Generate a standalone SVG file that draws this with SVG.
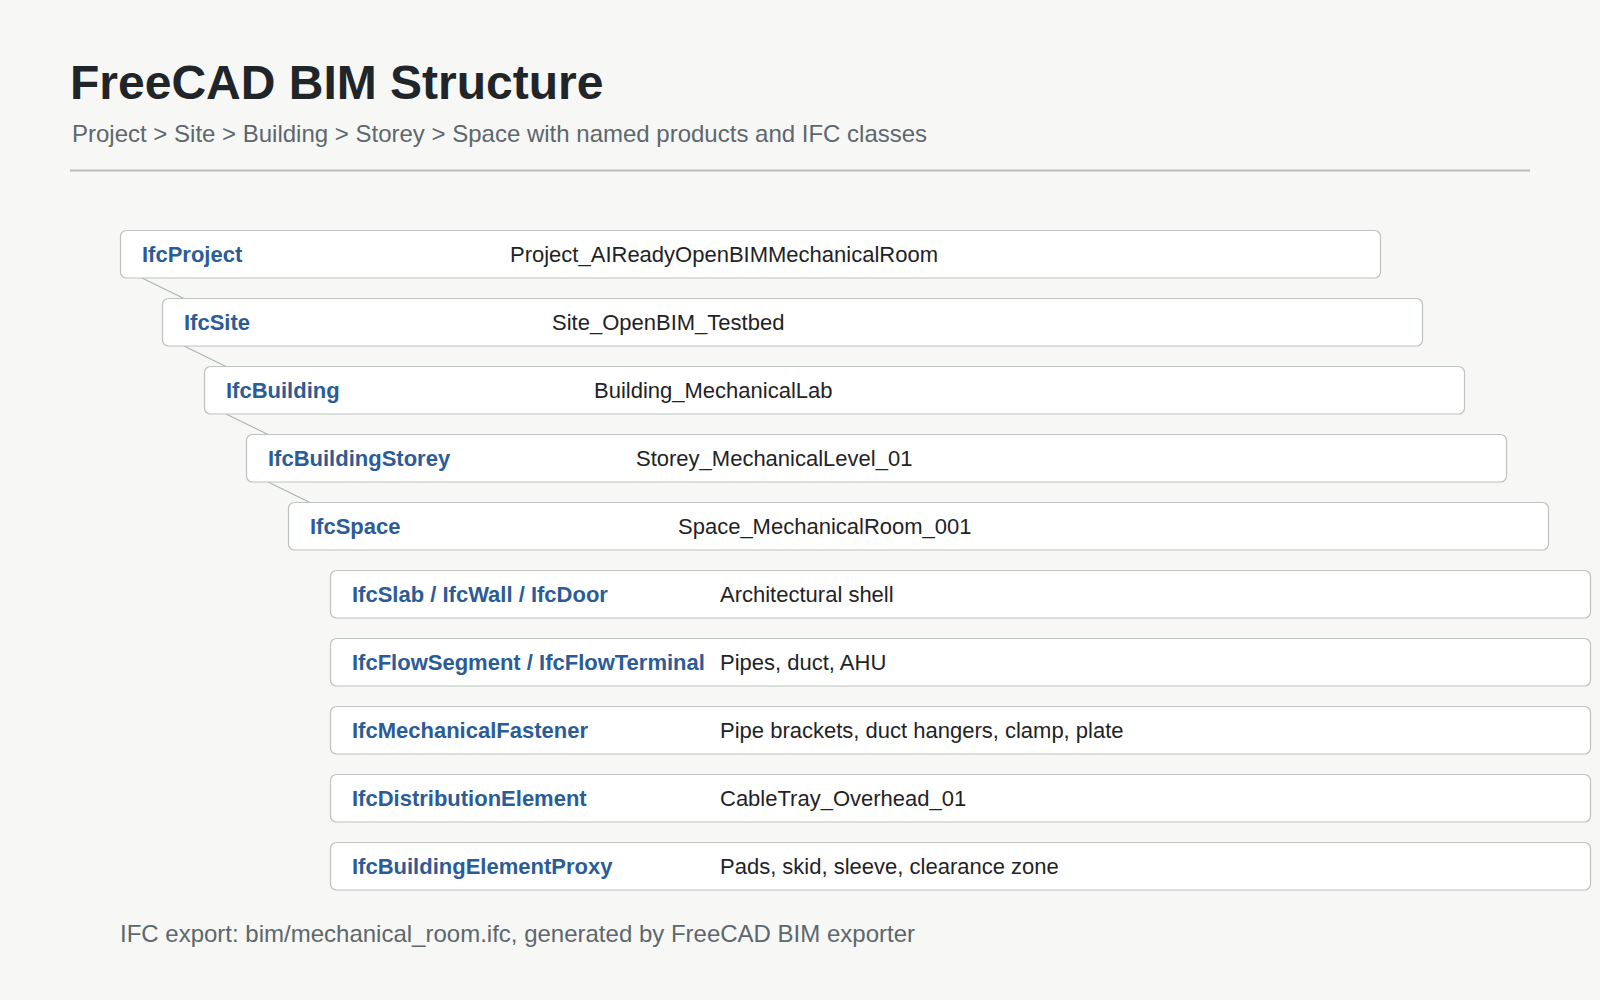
<svg xmlns="http://www.w3.org/2000/svg" width="1600" height="1000" viewBox="0 0 1600 1000">
  <style>
    .title { font-family: "Liberation Sans", Arial, sans-serif; font-weight: bold; font-size: 48px; fill: #1f2528; }
    .sub { font-family: "Liberation Sans", Arial, sans-serif; font-size: 24px; fill: #5d676e; }
    .box { fill: #ffffff; stroke: #bcc3c0; stroke-width: 1.2; }
    .lbl { font-family: "Liberation Sans", Arial, sans-serif; font-weight: bold; font-size: 22px; fill: #2b5c97; }
    .val { font-family: "Liberation Sans", Arial, sans-serif; font-size: 22px; fill: #1f2326; }
    .conn line { stroke: #adb4b1; stroke-width: 1.2; }
  </style>
  <rect x="0" y="0" width="1600" height="1000" fill="#f7f7f5"/>
  <text class="title" x="70" y="99">FreeCAD BIM Structure</text>
  <text class="sub" x="72" y="142">Project &gt; Site &gt; Building &gt; Storey &gt; Space with named products and IFC classes</text>
  <line x1="70" y1="170.5" x2="1530" y2="170.5" stroke="#b8bebb" stroke-width="2"/>

  <g id="connectors" class="conn">
    <line x1="142" y1="278" x2="184" y2="298.5"/>
    <line x1="184" y1="346" x2="226" y2="366.5"/>
    <line x1="226" y1="414" x2="268" y2="434.5"/>
    <line x1="268" y1="482" x2="310" y2="502.5"/>
  </g>

  <g id="node-project">
    <rect class="box" x="120.5" y="230.5" width="1260" height="47.5" rx="6"/>
    <text class="lbl" x="142" y="262">IfcProject</text>
    <text class="val" x="510" y="262">Project_AIReadyOpenBIMMechanicalRoom</text>
  </g>
  <g id="node-site">
    <rect class="box" x="162.5" y="298.5" width="1260" height="47.5" rx="6"/>
    <text class="lbl" x="184" y="330">IfcSite</text>
    <text class="val" x="552" y="330">Site_OpenBIM_Testbed</text>
  </g>
  <g id="node-building">
    <rect class="box" x="204.5" y="366.5" width="1260" height="47.5" rx="6"/>
    <text class="lbl" x="226" y="398">IfcBuilding</text>
    <text class="val" x="594" y="398">Building_MechanicalLab</text>
  </g>
  <g id="node-storey">
    <rect class="box" x="246.5" y="434.5" width="1260" height="47.5" rx="6"/>
    <text class="lbl" x="268" y="466">IfcBuildingStorey</text>
    <text class="val" x="636" y="466">Storey_MechanicalLevel_01</text>
  </g>
  <g id="node-space">
    <rect class="box" x="288.5" y="502.5" width="1260" height="47.5" rx="6"/>
    <text class="lbl" x="310" y="534">IfcSpace</text>
    <text class="val" x="678" y="534">Space_MechanicalRoom_001</text>
  </g>
  <g id="node-shell">
    <rect class="box" x="330.5" y="570.5" width="1260" height="47.5" rx="6"/>
    <text class="lbl" x="352" y="602">IfcSlab / IfcWall / IfcDoor</text>
    <text class="val" x="720" y="602">Architectural shell</text>
  </g>
  <g id="node-flow">
    <rect class="box" x="330.5" y="638.5" width="1260" height="47.5" rx="6"/>
    <text class="lbl" x="352" y="670">IfcFlowSegment / IfcFlowTerminal</text>
    <text class="val" x="720" y="670">Pipes, duct, AHU</text>
  </g>
  <g id="node-fastener">
    <rect class="box" x="330.5" y="706.5" width="1260" height="47.5" rx="6"/>
    <text class="lbl" x="352" y="738">IfcMechanicalFastener</text>
    <text class="val" x="720" y="738">Pipe brackets, duct hangers, clamp, plate</text>
  </g>
  <g id="node-distribution">
    <rect class="box" x="330.5" y="774.5" width="1260" height="47.5" rx="6"/>
    <text class="lbl" x="352" y="806">IfcDistributionElement</text>
    <text class="val" x="720" y="806">CableTray_Overhead_01</text>
  </g>
  <g id="node-proxy">
    <rect class="box" x="330.5" y="842.5" width="1260" height="47.5" rx="6"/>
    <text class="lbl" x="352" y="874">IfcBuildingElementProxy</text>
    <text class="val" x="720" y="874">Pads, skid, sleeve, clearance zone</text>
  </g>

  <text class="sub" x="120" y="942">IFC export: bim/mechanical_room.ifc, generated by FreeCAD BIM exporter</text>
</svg>
